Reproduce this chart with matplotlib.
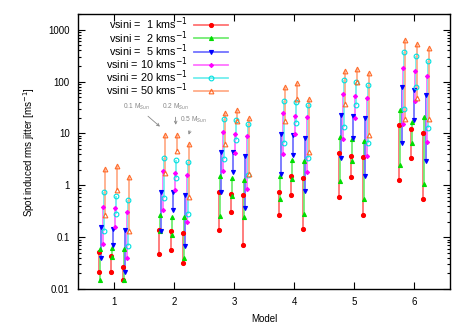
import numpy as np
import matplotlib
matplotlib.use("Agg")
import matplotlib.pyplot as plt
from matplotlib.lines import Line2D
from matplotlib.colors import to_rgb

plt.rcParams['font.family'] = ['Liberation Sans', 'DejaVu Sans']

# Models on the x axis, three stellar masses per model
models = [1, 2, 3, 4, 5, 6]
masses = ["0.1", "0.2", "0.5"]
vsini = [1, 2, 5, 10, 20, 50]

# low / high jitter per model, per mass (0.1, 0.2, 0.5 Msun)
lo_1 = [[0.021, 0.021, 0.015], [0.047, 0.057, 0.032], [0.14, 0.30, 0.07],
        [0.27, 0.64, 0.147], [0.59, 1.44, 0.27], [1.25, 3.3, 0.54]]
hi_1 = [[0.051, 0.044, 0.027], [0.14, 0.13, 0.12], [0.75, 0.69, 0.64],
        [0.75, 1.5, 1.4], [4.2, 3.7, 3.5], [14.3, 12.3, 10.2]]
lo_2 = [[0.015, 0.042, 0.015], [0.13, 0.11, 0.04], [0.26, 0.62, 0.25],
        [0.55, 1.34, 0.28], [1.21, 3.0, 0.55], [2.5, 6.6, 1.08]]
hi_2 = [[0.06, 0.062, 0.06], [0.27, 0.25, 0.24], [1.5, 1.4, 1.28],
        [1.5, 3.1, 2.9], [8.5, 7.9, 7.2], [28.5, 16.5, 20.5]]
lo_5 = [[0.04, 0.07, 0.021], [0.13, 0.34, 0.068], [0.75, 1.8, 0.36],
        [1.63, 3.9, 0.77], [3.4, 8.3, 1.5], [6.6, 18.5, 2.9]]
hi_5 = [[0.155, 0.146, 0.14], [0.75, 0.75, 0.65], [4.3, 4.4, 3.6],
        [9.8, 9.4, 8.3], [23, 22, 20], [78, 69, 56]]
lo_10 = [[0.075, 0.16, 0.04], [0.33, 0.8, 0.2], [1.85, 4.2, 0.86],
         [4.1, 9.8, 1.8], [7.9, 20, 3.6], [15.4, 43, 6.8]]
hi_10 = [[0.38, 0.36, 0.31], [1.85, 1.7, 1.55], [10.6, 9.8, 9.1],
         [24.5, 22, 20.5], [58, 53, 48], [180, 160, 130]]
lo_20 = [[0.13, 0.28, 0.067], [0.57, 1.4, 0.28], [3.2, 7.6, 1.55],
         [6.5, 15.8, 3.3], [13.6, 35, 6.6], [30, 78, 12.8]]
hi_20 = [[0.75, 0.62, 0.53], [3.4, 3.1, 2.8], [19, 18.5, 15.4],
         [43, 40, 35], [108, 100, 87], [370, 315, 245]]
lo_50 = [[0.27, 0.8, 0.13], [1.7, 4.6, 0.6], [6.3, 17.5, 1.63],
         [17.5, 46, 4.4], [37, 96, 9.4], [19, 49, 18.8]]
hi_50 = [[2.1, 2.35, 1.45], [9.4, 9.5, 6.3], [24.5, 28.5, 19.8],
         [78, 92, 46], [163, 176, 145], [645, 540, 445]]

lows = [lo_1, lo_2, lo_5, lo_10, lo_20, lo_50]
highs = [hi_1, hi_2, hi_5, hi_10, hi_20, hi_50]

colors = ['#ff0000', '#00dd00', '#0000ff', '#ff00ff', '#00e0e0', '#ff6a28']
markers = ['o', '^', 'v', 'D', 'o', '^']
filled = [True, True, True, True, False, False]
msizes = [2.9, 2.9, 2.9, 2.1, 3.4, 3.4]


def lighter(c, f=0.45):
    r, g, b = to_rgb(c)
    return (r + (1 - r) * f, g + (1 - g) * f, b + (1 - b) * f)


fig = plt.figure(figsize=(4.67, 3.27), dpi=100)
ax = fig.add_axes([0.167, 0.116, 0.797, 0.841])

mass_off = [-0.2, 0.0, 0.2]
handles = []
for i, v in enumerate(vsini):
    xs, lo, hi = [], [], []
    for mi, m in enumerate(models):
        for g in range(3):
            xs.append(m + mass_off[g] + (i - 2.5) * 0.022)
            lo.append(lows[i][mi][g])
            hi.append(highs[i][mi][g])
    xs = np.array(xs)
    ax.vlines(xs, lo, hi, color=lighter(colors[i]), lw=1.3, zorder=2)
    fc = colors[i] if filled[i] else 'none'
    for yy in (lo, hi):
        ax.plot(xs, yy, ls='none', marker=markers[i], ms=msizes[i],
                mfc=fc, mec=colors[i], mew=0.8, zorder=3)
    handles.append(Line2D([0], [0], color=lighter(colors[i]), lw=1.3,
                          marker=markers[i], ms=msizes[i], mfc=fc,
                          mec=colors[i], mew=0.8,
                          label="vsini = %s kms$^{-1}$" % (" %d" % v if v < 10 else "%d" % v)))

ax.set_yscale('log')
ax.set_xlim(0.4, 6.6)
ax.set_ylim(0.01, 2000)
ax.set_xticks(models)
ax.set_yticks([0.01, 0.1, 1, 10, 100, 1000])
ax.set_yticklabels(['0.01', '0.1', '1', '10', '100', '1000'])
ax.tick_params(which='both', direction='in', top=True, right=True, labelsize=7, width=0.8)
ax.tick_params(which='major', length=5, pad=6)
ax.tick_params(which='minor', length=2.5)
ax.tick_params(axis='x', which='minor', bottom=False, top=False)
for s in ax.spines.values():
    s.set_linewidth(1.0)

ax.set_xlabel("Model", fontsize=7, labelpad=5)
ax.set_ylabel("Spot induced rms jitter [ms$^{-1}$]", fontsize=7, labelpad=8)

leg = ax.legend(handles=handles, loc='upper right', bbox_to_anchor=(0.425, 1.025),
                markerfirst=False, frameon=False, fontsize=7.8, handlelength=3.1,
                labelspacing=-0.32, handletextpad=0.6, borderpad=0.3)

# mass labels with arrows
ann = dict(fontsize=4.8, color='#888888', ha='center', va='center')
arr = dict(arrowstyle='->', color='#888888', lw=0.6)
ax.annotate("0.1 M$_{Sun}$", xy=(1.8, 12.5), xytext=(1.38, 33), arrowprops=arr, **ann)
ax.annotate("0.2 M$_{Sun}$", xy=(2.03, 13), xytext=(2.02, 33), arrowprops=arr, **ann)
ax.annotate("0.5 M$_{Sun}$", xy=(2.23, 8.4), xytext=(2.32, 18), arrowprops=arr, **ann)

fig.savefig("out.png", dpi=100)
